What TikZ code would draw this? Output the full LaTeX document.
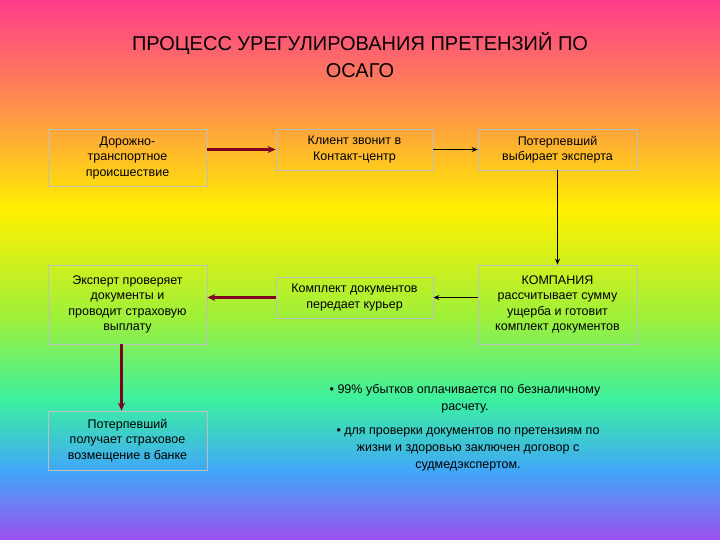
\documentclass[tikz,border=0pt]{standalone}
\usepackage{fontspec}
\setmainfont{Liberation Sans}
\usetikzlibrary{arrows.meta}
\definecolor{c0}{HTML}{FF3C8C}
\definecolor{c1}{HTML}{FF8A50}
\definecolor{c2}{HTML}{FFF000}
\definecolor{c3}{HTML}{9CF03C}
\definecolor{c4}{HTML}{3CF0A0}
\definecolor{c5}{HTML}{40A8F8}
\definecolor{c6}{HTML}{9C50F0}
\definecolor{darr}{HTML}{800020}
\begin{document}
\begin{tikzpicture}[x=1pt,y=-1pt,
  box/.style={draw=gray!50,line width=0.8pt,align=center,font=\fontsize{12.5}{15.5}\selectfont,inner sep=1pt},
  redarrow/.style={-{Stealth[length=8pt,width=7pt]},draw=darr,line width=2.4pt},
  blackarrow/.style={-{Stealth[length=6pt,width=5pt]},draw=black,line width=0.7pt}]
\useasboundingbox (0,0) rectangle (720,540);
\shade[top color=c0,bottom color=c1] (0,0) rectangle (720,100);
\shade[top color=c1,bottom color=c2] (0,100) rectangle (720,210);
\shade[top color=c2,bottom color=c3] (0,210) rectangle (720,320);
\shade[top color=c3,bottom color=c4] (0,320) rectangle (720,400);
\shade[top color=c4,bottom color=c5] (0,400) rectangle (720,470);
\shade[top color=c5,bottom color=c6] (0,470) rectangle (720,540);
\node[align=center,font=\fontsize{20}{27}\selectfont] (title) at (360,55) {ПРОЦЕСС УРЕГУЛИРОВАНИЯ ПРЕТЕНЗИЙ ПО\\ОСАГО};
\node[box,minimum width=159pt,minimum height=57pt] (b1) at (127.5,157.5) {Дорожно-\\транспортное\\происшествие};
\node[box,minimum width=157pt,minimum height=41pt] (b2) at (354.5,149.5) {Клиент звонит в\\Контакт-центр};
\node[box,minimum width=159pt,minimum height=41pt] (b3) at (557.5,149.5) {Потерпевший\\выбирает эксперта};
\node[box,minimum width=159pt,minimum height=79pt] (b4) at (127.5,304.5) {Эксперт проверяет\\документы и\\проводит страховую\\выплату};
\node[box,minimum width=157pt,minimum height=41pt] (b5) at (354.5,297.5) {Комплект документов\\передает курьер};
\node[box,minimum width=159pt,minimum height=79pt] (b6) at (557.5,304.5) {КОМПАНИЯ\\рассчитывает сумму\\ущерба и готовит\\комплект документов};
\node[box,minimum width=159pt,minimum height=59pt] (b7) at (127.5,440.5) {Потерпевший\\получает страховое\\возмещение в банке};
\node[align=center,font=\fontsize{12.5}{17}\selectfont] (t1) at (465,399) {• 99\% убытков оплачивается по безналичному\\расчету.};
\node[align=center,font=\fontsize{12.5}{17}\selectfont] (t2) at (468,449) {• для проверки документов по претензиям по\\жизни и здоровью заключен договор с\\судмедэкспертом.};
\draw[redarrow] (b1.east |- b2) -- (b2.west);
\draw[blackarrow] (b2.east) -- (b3.west);
\draw[blackarrow] (b3.south) -- (b6.north);
\draw[blackarrow] (b6.west |- b5) -- (b5.east);
\draw[redarrow] (b5.west) -- (b4.east |- b5);
\draw[redarrow] ([xshift=-6pt]b4.south) -- ([xshift=-6pt]b7.north);
\end{tikzpicture}
\end{document}
